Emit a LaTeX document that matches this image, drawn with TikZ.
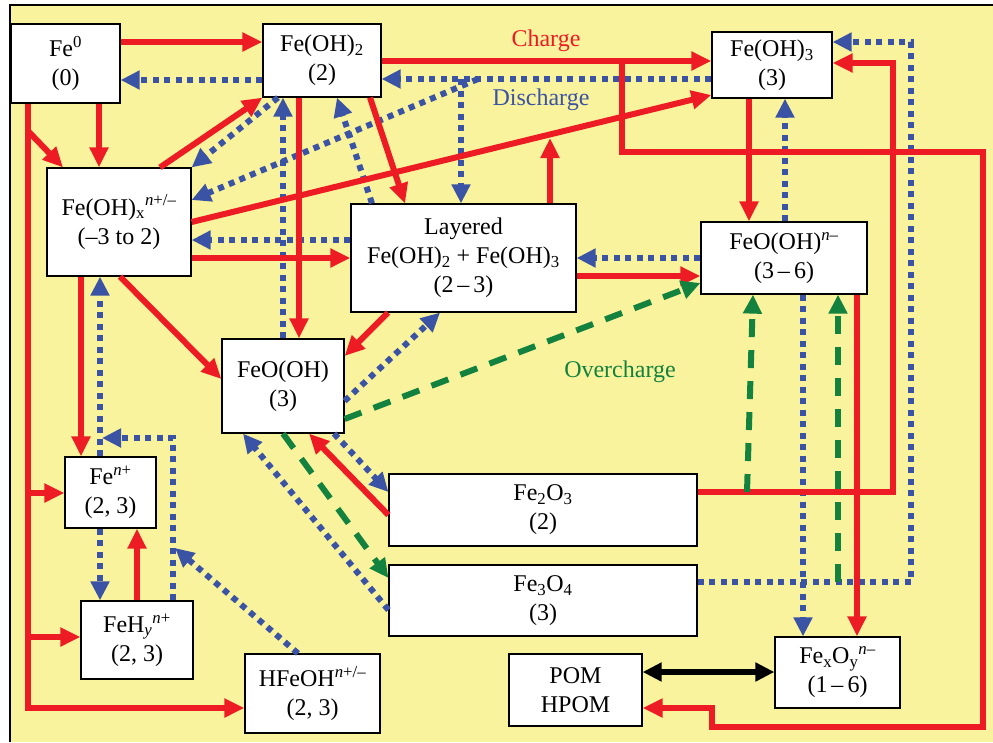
\documentclass[tikz,border=0pt]{standalone}
\usepackage{fontspec}
\setmainfont{Liberation Serif}
\usetikzlibrary{arrows.meta}
\definecolor{cred}{RGB}{237,28,36}
\definecolor{cblue}{RGB}{58,83,164}
\definecolor{cgreen}{RGB}{18,130,62}
\definecolor{cyel}{RGB}{250,243,157}
\tikzset{
  box/.style={draw=black, line width=1.2pt, fill=white, inner sep=0pt, align=center, font=\fontsize{24}{29}\selectfont},
  lbl/.style={inner sep=0pt, font=\fontsize{24}{29}\selectfont},
  rline/.style={draw=cred, line width=6pt},
  rarr/.style={rline, -{Triangle[length=20pt,width=18pt]}},
  bline/.style={draw=cblue, line width=6pt, dash pattern=on 6pt off 5.5pt},
  barr/.style={bline, -{Triangle[length=19pt,width=18pt]}},
  gline/.style={draw=cgreen, line width=6pt, dash pattern=on 18pt off 13pt},
  garr/.style={gline, -{Triangle[length=19pt,width=18pt]}},
  karr/.style={draw=black, line width=5.5pt, {Triangle[length=19pt,width=18pt]}-{Triangle[length=19pt,width=18pt]}},
}
\begin{document}
\begin{tikzpicture}[x=1pt,y=-1pt]
\useasboundingbox (0,0) rectangle (993,742);
\fill[white] (0,0) rectangle (993,742);
\fill[cyel] (10,5) rectangle (993,742);
\draw[black, line width=1.3pt] (10,742) -- (10,5) -- (993,5);

% nodes
\node[box, minimum width=109pt, minimum height=79pt] (fe0) at (65.5,63.5) {Fe\textsuperscript{0}\\(0)};
\node[box, minimum width=118pt, minimum height=73pt] (feoh2) at (322,60.5) {Fe(OH)\textsubscript{2}\\(2)};
\node[box, minimum width=120pt, minimum height=66pt] (feoh3) at (772,65) {Fe(OH)\textsubscript{3}\\(3)};
\node[box, minimum width=144pt, minimum height=108pt] (feohx) at (119,222) {Fe(OH)\textsubscript{x}\textsuperscript{\textit{n}+/–}\\(–3 to 2)};
\node[box, minimum width=225pt, minimum height=108pt] (lay) at (463.5,258) {Layered\\Fe(OH)\textsubscript{2} + Fe(OH)\textsubscript{3}\\(2\,–\,3)};
\node[box, minimum width=166pt, minimum height=72pt] (feoohn) at (784,258) {FeO(OH)\textsuperscript{\textit{n}–}\\(3\,–\,6)};
\node[box, minimum width=122pt, minimum height=94pt] (feooh) at (283,386) {FeO(OH)\\(3)};
\node[box, minimum width=91pt, minimum height=71pt] (fen) at (110.5,492.5) {Fe\textsuperscript{\textit{n}+}\\(2, 3)};
\node[box, minimum width=112pt, minimum height=78pt] (fehy) at (137,640) {FeH\textsubscript{\textit{y}}\textsuperscript{\textit{n}+}\\(2, 3)};
\node[box, minimum width=135pt, minimum height=79pt] (hfeoh) at (312.5,693.5) {HFeOH\textsuperscript{\textit{n}+/–}\\(2, 3)};
\node[box, minimum width=308pt, minimum height=72pt] (fe2o3) at (543,510) {Fe\textsubscript{2}O\textsubscript{3}\\(2)};
\node[box, minimum width=308pt, minimum height=71pt] (fe3o4) at (543,600.5) {Fe\textsubscript{3}O\textsubscript{4}\\(3)};
\node[box, minimum width=133pt, minimum height=72pt] (pom) at (575.5,690) {POM\\HPOM};
\node[box, minimum width=125pt, minimum height=71pt] (fexoy) at (837.5,672.5) {Fe\textsubscript{x}O\textsubscript{y}\textsuperscript{\textit{n}–}\\(1\,–\,6)};

% labels
\node[lbl, text=cred] (lcharge) at (546,41) {Charge};
\node[lbl, text=cblue] (ldis) at (541,100) {Discharge};
\node[lbl, text=cgreen] (lover) at (620,372) {Overcharge};

% free points
\coordinate (b3s) at (478,79);
\coordinate (b4s) at (461,79);
\coordinate (b17t) at (102,438);
\coordinate (b19t) at (175,548);
\coordinate (r12s) at (622,61);
\coordinate (r13t) at (550,138);
\coordinate (sp1) at (28,131);
\coordinate (sp2) at (28,493);
\coordinate (sp3) at (28,637);
\coordinate (g3s) at (747,492);
\coordinate (g4s) at (838,582);

% blue (discharge)
\draw[barr] (feoh2.west |- 0,80) -- (fe0.east |- 0,80);
\draw[barr] (feoh3.west |- 0,79) -- (feoh2.east |- 0,79);
\draw[barr] (b3s) -- (feohx.east |- 0,200);
\draw[barr] (b4s) -- (lay.north -| 461,0);
\draw[barr] (lay.north -| 372,0) -- (feoh2.south -| 337,0);
\draw[barr] (feooh.north -| 283,0) -- (feoh2.south -| 283,0);
\draw[barr] (feoh2.south -| 278,0) -- (feohx.north east);
\draw[barr] (lay.west |- 0,240) -- (feohx.east |- 0,240);
\draw[barr] (feoohn.west |- 0,258) -- (lay.east |- 0,258);
\draw[barr] (feoohn.north -| 785,0) -- (feoh3.south -| 785,0);
\draw[barr] (feoohn.south -| 803,0) -- (fexoy.north -| 803,0);
\draw[barr] (fe3o4.east |- 0,582) -- (911,582) -- (911,42) -- (feoh3.east |- 0,42);
\draw[barr] (feooh.east |- 0,401) -- (lay.south -| 440,0);
\draw[barr] (feooh.south -| 334,0) -- (fe2o3.west |- 0,492);
\draw[barr] (fe3o4.west |- 0,610) -- (feooh.south -| 243,0);
\draw[barr] (fen.north -| 100,0) -- (feohx.south -| 100,0);
\draw[barr] (fehy.north -| 173,0) -- (173,438) -- (b17t);
\draw[barr] (fen.south -| 100,0) -- (fehy.north -| 100,0);
\draw[barr] (hfeoh.north -| 298,0) -- (b19t);

% red (charge)
\draw[rarr] (fe0.east |- 0,42) -- (feoh2.west |- 0,42);
\draw[rarr] (fe0.south -| 99,0) -- (feohx.north -| 99,0);
\draw[rarr] (fe0.south -| 28,0) |- (hfeoh.west |- 0,708);
\draw[rarr] (sp1) -- (feohx.north -| 63,0);
\draw[rarr] (sp2) -- (fen.west |- 0,493);
\draw[rarr] (sp3) -- (fehy.west |- 0,637);
\draw[rarr] (feohx.north -| 160,0) -- (feoh2.south west);
\draw[rarr] (feohx.east |- 0,222) -- (feoh3.west |- 0,95);
\draw[rarr] (feohx.east |- 0,258) -- (lay.west |- 0,258);
\draw[rarr] (feohx.south -| 120,0) -- (feooh.west |- 0,379);
\draw[rarr] (feohx.south -| 81,0) -- (fen.north -| 81,0);
\draw[rarr] (feoh2.south -| 299,0) -- (feooh.north -| 299,0);
\draw[rarr] (feoh2.south -| 370,0) -- (lay.north -| 405,0);
\draw[rarr] (feoh2.east |- 0,61) -- (feoh3.west |- 0,61);
\draw[rarr] (r12s) -- (622,152) -- (983,152) -- (983,727) -- (712,727) -- (712,708) -- (pom.east |- 0,708);
\draw[rarr] (lay.north -| 550,0) -- (r13t);
\draw[rarr] (lay.east |- 0,276) -- (feoohn.west |- 0,276);
\draw[rarr] (lay.south -| 388,0) -- (feooh.east |- 0,356);
\draw[rarr] (feoh3.south -| 749,0) -- (feoohn.north -| 749,0);
\draw[rarr] (fe2o3.west |- 0,515) -- (feooh.south -| 309,0);
\draw[rarr] (fe2o3.east |- 0,492) -- (893,492) -- (893,63) -- (feoh3.east |- 0,63);
\draw[rarr] (feoohn.south -| 857,0) -- (fexoy.north -| 857,0);
\draw[rarr] (fehy.north -| 137,0) -- (fen.south -| 137,0);

% green (overcharge)
\draw[garr] (feooh.east |- 0,419) -- (feoohn.west |- 0,283);
\draw[garr] (feooh.south -| 283,0) -- (fe3o4.west |- 0,578);
\draw[garr] (g3s) -- (feoohn.south -| 753,0);
\draw[garr] (g4s) -- (feoohn.south -| 838,0);

% black
\draw[karr] (pom.east |- 0,672) -- (fexoy.west |- 0,672);
\end{tikzpicture}
\end{document}
